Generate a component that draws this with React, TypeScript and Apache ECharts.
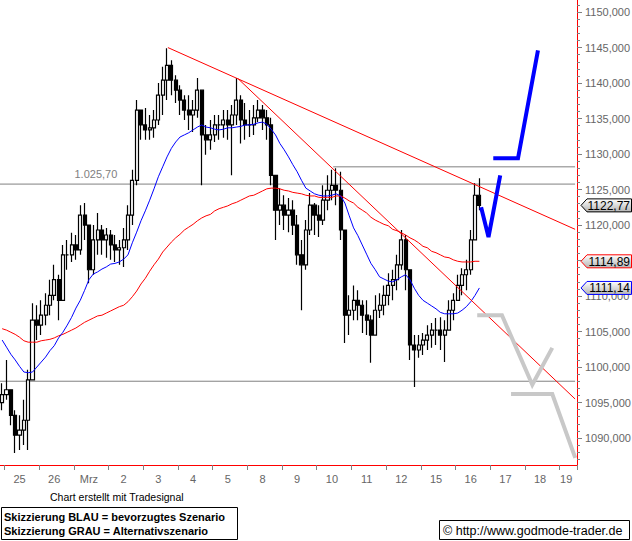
import React, { useEffect, useRef } from 'react';
import * as echarts from 'echarts';

// ---- axis / category data ----
const DAY_LABELS = ['25', '26', 'Mrz', '2', '3', '4', '5', '8', '9', '10', '11', '12', '15', '16', '17', '18', '19'];
const DAY_LABEL_SLOTS = [4, 12, 20, 28, 36, 44, 52, 60, 68, 76, 84, 92, 100, 108, 116, 124, 130];
const SLOTS_PER_DAY = 8;
const SLOT_COUNT = 133;
const Y_MIN = 1086.2;
const Y_MAX = 1151.7;
// 1115,000 is hidden behind the price tag in the reference
const Y_LABELS = [1090, 1095, 1100, 1105, 1110, 1120, 1125, 1130, 1135, 1140, 1145, 1150];
const Y_MAJOR_TICKS = [1090, 1095, 1100, 1105, 1110, 1115, 1120, 1125, 1130, 1135, 1140, 1145, 1150];
const Y_MINOR = [1087, 1088, 1089, 1090, 1091, 1092, 1093, 1094, 1095, 1096, 1097, 1098, 1099, 1100, 1101, 1102, 1103, 1104, 1105, 1106, 1107, 1108, 1109, 1110, 1111, 1112, 1113, 1114, 1115, 1116, 1117, 1118, 1119, 1120, 1121, 1122, 1123, 1124, 1125, 1126, 1127, 1128, 1129, 1130, 1131, 1132, 1133, 1134, 1135, 1136, 1137, 1138, 1139, 1140, 1141, 1142, 1143, 1144, 1145, 1146, 1147, 1148, 1149, 1150, 1151];

// ---- price bars ----
const FIRST_OPEN = 1095.0;
const HIGHS = [
  1097.7, 1101.0, 1096.3, 1093.9, 1093.2, 1095.4, 1099.6, 1109.0, 1108.7, 1109.4,
  1110.4, 1112.3, 1114.4, 1113.0, 1117.2, 1117.9, 1118.9, 1118.6, 1122.8, 1123.1,
  1120.0, 1120.0, 1121.7, 1120.0, 1119.6, 1119.3, 1118.6, 1117.9, 1119.6, 1122.8,
  1127.8, 1137.6, 1136.2, 1136.5, 1135.5, 1136.2, 1140.0, 1142.3, 1144.9, 1143.2,
  1141.1, 1139.7, 1138.3, 1138.3, 1137.6, 1140.7, 1138.3, 1134.1, 1134.8, 1135.5,
  1135.5, 1136.2, 1136.2, 1136.9, 1140.7, 1138.3, 1137.2, 1136.2, 1136.9, 1137.6,
  1136.9, 1136.2, 1135.1, 1126.3, 1125.2, 1124.2, 1123.8, 1123.5, 1121.4, 1117.9,
  1120.7, 1124.5, 1123.1, 1122.8, 1125.6, 1127.0, 1127.8, 1128.0, 1127.5, 1117.9,
  1110.1, 1111.5, 1110.8, 1109.4, 1109.4, 1107.3, 1110.1, 1110.4, 1111.5, 1113.2,
  1113.7, 1115.8, 1119.3, 1118.6, 1112.3, 1104.5, 1104.5, 1104.8, 1105.9, 1106.2,
  1106.9, 1107.0, 1106.6, 1109.4, 1110.4, 1113.0, 1113.9, 1115.1, 1119.3, 1125.9,
  1126.6,
];
const LOWS = [
  1093.9, 1095.4, 1091.8, 1087.9, 1088.3, 1089.0, 1088.3, 1098.2, 1103.8, 1104.5,
  1105.9, 1107.3, 1109.4, 1106.6, 1109.4, 1113.7, 1114.8, 1115.1, 1115.8, 1117.9,
  1111.8, 1113.0, 1115.8, 1115.8, 1115.4, 1115.1, 1114.8, 1114.4, 1114.1, 1116.5,
  1120.0, 1125.6, 1132.0, 1132.0, 1132.0, 1132.3, 1134.1, 1135.5, 1137.6, 1138.3,
  1137.2, 1135.5, 1134.8, 1133.4, 1133.1, 1135.1, 1125.6, 1129.9, 1130.6, 1131.7,
  1132.0, 1132.3, 1132.0, 1127.0, 1134.1, 1131.5, 1132.0, 1132.4, 1132.7, 1134.5,
  1133.4, 1132.0, 1125.6, 1117.9, 1120.0, 1119.3, 1119.0, 1118.6, 1114.4, 1108.0,
  1113.7, 1118.6, 1118.6, 1118.3, 1120.0, 1122.1, 1123.5, 1122.8, 1117.9, 1103.4,
  1104.5, 1106.6, 1106.6, 1104.8, 1104.5, 1100.6, 1104.5, 1106.9, 1107.3, 1108.7,
  1109.4, 1110.8, 1113.7, 1110.8, 1101.0, 1097.2, 1101.3, 1101.7, 1102.4, 1102.7,
  1103.1, 1102.4, 1100.7, 1105.2, 1106.6, 1109.4, 1110.1, 1110.8, 1113.0, 1117.9,
  1122.1,
];
const CLOSES = [
  1096.1, 1096.8, 1093.2, 1090.4, 1091.1, 1092.5, 1098.2, 1106.6, 1105.9, 1107.3,
  1108.7, 1110.1, 1112.3, 1109.4, 1115.8, 1115.8, 1117.2, 1116.5, 1121.4, 1120.0,
  1113.7, 1117.9, 1119.3, 1117.9, 1118.6, 1117.2, 1116.5, 1116.8, 1117.9, 1121.4,
  1126.3, 1136.2, 1134.1, 1133.4, 1133.7, 1134.8, 1138.3, 1140.4, 1142.5, 1140.4,
  1139.0, 1137.6, 1136.2, 1135.5, 1136.2, 1139.0, 1132.7, 1132.0, 1132.7, 1134.1,
  1134.1, 1134.8, 1134.1, 1135.5, 1137.6, 1134.8, 1134.1, 1134.1, 1135.1, 1136.2,
  1135.1, 1134.1, 1127.0, 1122.1, 1122.8, 1121.4, 1122.1, 1120.0, 1115.8, 1114.4,
  1119.3, 1122.8, 1121.4, 1120.7, 1123.5, 1124.9, 1125.6, 1124.9, 1119.3, 1107.3,
  1108.0, 1109.4, 1108.7, 1107.3, 1106.6, 1104.5, 1108.0, 1108.7, 1110.1, 1111.5,
  1112.3, 1114.4, 1117.9, 1113.7, 1103.1, 1102.4, 1103.1, 1103.8, 1104.5, 1105.2,
  1105.2, 1104.5, 1105.2, 1108.0, 1109.4, 1111.5, 1113.0, 1113.7, 1117.9, 1124.2,
  1122.77,
];

// ---- moving averages ----
const BLUE_MA = [
  1103.8, 1102.8, 1101.8, 1101.0, 1100.1, 1099.3, 1099.2, 1099.3, 1100.0, 1100.7,
  1101.4, 1102.3, 1103.0, 1104.1, 1104.9, 1105.9, 1107.0, 1108.3, 1109.4, 1110.8,
  1112.3, 1113.1, 1113.4, 1113.8, 1114.1, 1114.5, 1114.6, 1114.8, 1115.2, 1115.8,
  1117.5, 1119.0, 1120.6, 1122.0, 1123.5, 1125.1, 1126.8, 1128.2, 1129.6, 1130.8,
  1131.7, 1132.4, 1132.7, 1133.0, 1133.4, 1133.8, 1134.1, 1133.8, 1133.7, 1133.5,
  1133.4, 1133.5, 1133.7, 1133.7, 1133.8, 1133.9, 1134.1, 1134.1, 1134.2, 1134.4,
  1134.5, 1134.2, 1133.5, 1132.7, 1131.5, 1130.6, 1129.6, 1128.5, 1127.5, 1126.3,
  1125.2, 1124.8, 1124.4, 1124.2, 1124.1, 1124.1, 1124.2, 1124.4, 1124.1, 1123.1,
  1121.3, 1119.6, 1118.5, 1117.2, 1115.9, 1114.6, 1113.7, 1112.7, 1112.4, 1112.1,
  1112.0, 1112.3, 1112.7, 1113.0, 1112.3, 1111.1, 1110.1, 1109.4, 1109.0, 1108.6,
  1108.2, 1107.7, 1107.5, 1107.5, 1107.5, 1107.6, 1108.0, 1108.5, 1109.2, 1110.1,
  1111.14,
];
const RED_MA = [
  1105.4, 1105.2, 1104.9, 1104.6, 1104.2, 1103.7, 1103.5, 1103.5, 1103.5, 1103.7,
  1103.8, 1103.9, 1104.1, 1104.4, 1104.6, 1104.9, 1105.2, 1105.5, 1105.9, 1106.3,
  1106.6, 1106.9, 1107.2, 1107.3, 1107.6, 1107.9, 1108.2, 1108.5, 1108.7, 1109.2,
  1109.9, 1110.7, 1111.7, 1112.5, 1113.5, 1114.4, 1115.2, 1116.2, 1116.9, 1117.6,
  1118.2, 1118.7, 1119.3, 1119.7, 1120.1, 1120.6, 1121.0, 1121.3, 1121.5, 1122.0,
  1122.3, 1122.5, 1122.7, 1123.0, 1123.2, 1123.5, 1123.8, 1124.1, 1124.2, 1124.5,
  1124.8, 1125.1, 1125.2, 1125.2, 1125.1, 1124.9, 1124.8, 1124.6, 1124.5, 1124.4,
  1124.2, 1124.1, 1124.1, 1123.9, 1123.9, 1123.9, 1123.9, 1124.1, 1124.1, 1123.8,
  1123.4, 1123.1, 1122.5, 1122.1, 1121.7, 1121.1, 1120.7, 1120.4, 1120.1, 1119.9,
  1119.4, 1119.2, 1118.9, 1118.6, 1118.2, 1117.9, 1117.5, 1117.0, 1116.8, 1116.3,
  1116.1, 1115.8, 1115.5, 1115.4, 1115.1, 1114.9, 1114.8, 1114.8, 1114.8, 1114.9,
  1114.89,
];

// ---- drawn lines: [slot position, price] ----
const TREND_TOP = [[38.2, 1145.0], [132.06, 1119.4]];
const TREND_STEEP = [[54.4, 1140.6], [132.06, 1095.5]];
const LEVEL_MAIN = [[-0.5, 1125.77], [132.06, 1125.77]];
const LEVEL_HIGH = [[76.3, 1128.2], [132.06, 1128.2]];
const LEVEL_LOW = [[-0.5, 1098.0], [132.06, 1098.0]];
const LEVEL_MAIN_TEXT = '1.025,70';
const LEVEL_MAIN_TEXT_SLOT = 21.6;
const BLUE_V = [[110.4, 1122.5], [112.1, 1118.3], [114.8, 1127.0]];
const BLUE_UP = [[113.2, 1129.4], [118.9, 1129.4], [123.5, 1144.6]];
const GRAY_1 = [[109.5, 1107.3], [115.2, 1107.3], [122.2, 1097.5], [126.8, 1102.7]];
const GRAY_2 = [[117.3, 1096.2], [126.8, 1096.2], [132.1, 1087.2]];

const FONT = '"Liberation Sans", Arial, sans-serif';

export default function App() {
  const ref = useRef<HTMLDivElement>(null);

  useEffect(() => {
    document.body.style.margin = '0';
    if (!ref.current) return;
    const chart = echarts.init(ref.current, undefined, { renderer: 'svg' });

    const categories = Array.from({ length: SLOT_COUNT }, (_, i) => String(i));
    const labelMap: Record<number, string> = {};
    DAY_LABEL_SLOTS.forEach((s, k) => { labelMap[s] = DAY_LABELS[k]; });

    const candles = CLOSES.map((c, i) => {
      const o = i === 0 ? FIRST_OPEN : CLOSES[i - 1];
      return [o, c, Math.min(LOWS[i], o, c), Math.max(HIGHS[i], o, c)];
    });

    const seg = (data: number[][], color: string, width: number, z = 4) => ({
      type: 'line',
      xAxisIndex: 1,
      yAxisIndex: 0,
      data,
      symbol: 'none',
      lineStyle: { color, width, cap: 'butt', join: 'miter' },
      z,
      silent: true,
    });

    chart.setOption({
      animation: false,
      backgroundColor: '#ffffff',
      grid: { left: 0, top: 0, width: 577, height: 465, containLabel: false, outerBoundsMode: 'none' },
      xAxis: [
        {
          type: 'category',
          data: categories,
          boundaryGap: true,
          axisLine: { onZero: false, lineStyle: { color: '#ff0000', width: 1 } },
          axisTick: {
            show: true,
            interval: (i: number) => i % SLOTS_PER_DAY === 1,
            length: 5,
            lineStyle: { color: '#808080' },
          },
          axisLabel: {
            interval: (i: number) => labelMap[i] !== undefined,
            formatter: (_v: string, i: number) => labelMap[i] ?? '',
            color: '#666666',
            fontSize: 11,
            fontFamily: FONT,
            margin: 8,
          },
          splitLine: { show: false },
        },
        { type: 'value', min: -0.5, max: SLOT_COUNT - 0.5, show: false },
      ],
      yAxis: [
        {
          type: 'value',
          position: 'right',
          min: Y_MIN,
          max: Y_MAX,
          axisLine: { show: true, onZero: false, lineStyle: { color: '#ff0000', width: 1 } },
          axisTick: { show: true, customValues: Y_MAJOR_TICKS, length: 5, lineStyle: { color: '#808080' } },
          axisLabel: {
            customValues: Y_LABELS,
            formatter: (v: number) => v.toFixed(3).replace('.', ','),
            color: '#666666',
            fontSize: 11,
            fontFamily: FONT,
            margin: 8,
          },
          splitLine: { show: false },
        },
        {
          type: 'value',
          position: 'right',
          min: Y_MIN,
          max: Y_MAX,
          axisLine: { show: false, onZero: false },
          axisTick: { show: true, customValues: Y_MINOR, length: 3, lineStyle: { color: '#808080' } },
          axisLabel: { show: false },
          splitLine: { show: false },
        },
      ],
      series: [
        seg(LEVEL_MAIN, '#808080', 1, 1),
        seg(LEVEL_HIGH, '#808080', 1, 1),
        seg(LEVEL_LOW, '#808080', 1, 1),
        {
          type: 'candlestick',
          xAxisIndex: 0,
          yAxisIndex: 0,
          data: candles,
          barWidth: 3.6,
          itemStyle: {
            color: '#ffffff',
            color0: '#000000',
            borderColor: '#000000',
            borderColor0: '#000000',
            borderWidth: 1.2,
          },
          z: 2,
          silent: true,
        },
        {
          type: 'line',
          xAxisIndex: 0,
          yAxisIndex: 0,
          data: RED_MA,
          symbol: 'none',
          lineStyle: { color: '#ff0000', width: 1 },
          z: 3,
          silent: true,
        },
        {
          type: 'line',
          xAxisIndex: 0,
          yAxisIndex: 0,
          data: BLUE_MA,
          symbol: 'none',
          lineStyle: { color: '#0000ff', width: 1 },
          z: 3,
          silent: true,
        },
        seg(TREND_TOP, '#ff0000', 1),
        seg(TREND_STEEP, '#ff0000', 1),
        seg(GRAY_1, '#c8c8c8', 4, 5),
        seg(GRAY_2, '#c8c8c8', 4, 5),
        seg(BLUE_V, '#0000ff', 4, 6),
        seg(BLUE_UP, '#0000ff', 4, 6),
      ],
    });

    const fmt2 = (v: number) => v.toFixed(2).replace('.', ',');
    const grad = () =>
      new echarts.graphic.LinearGradient(0, 0, 0, 1, [
        { offset: 0, color: '#ffffff' },
        { offset: 1, color: '#b4b4b4' },
      ]);
    const tags = [
      { value: CLOSES[CLOSES.length - 1], stroke: '#000000' },
      { value: RED_MA[RED_MA.length - 1], stroke: '#ff0000' },
      { value: BLUE_MA[BLUE_MA.length - 1], stroke: '#0000ff' },
    ];
    const elements: any[] = [];
    tags.forEach((t) => {
      const y = chart.convertToPixel({ yAxisIndex: 0 }, t.value) as number;
      elements.push({
        type: 'polygon',
        z: 100,
        shape: { points: [[581, y], [587, y - 6.5], [631.5, y - 6.5], [631.5, y + 6.5], [587, y + 6.5]] },
        style: { fill: grad(), stroke: t.stroke, lineWidth: 1 },
      });
      elements.push({
        type: 'text',
        z: 101,
        x: 630,
        y: y + 0.5,
        style: { text: fmt2(t.value), fill: '#000000', font: `12px ${FONT}`, align: 'right', verticalAlign: 'middle' },
      });
    });

    const lx = chart.convertToPixel({ xAxisIndex: 1 }, LEVEL_MAIN_TEXT_SLOT) as number;
    const ly = chart.convertToPixel({ yAxisIndex: 0 }, LEVEL_MAIN[0][1]) as number;
    elements.push({
      type: 'text',
      z: 50,
      x: lx,
      y: ly - 5,
      style: { text: LEVEL_MAIN_TEXT, fill: '#808080', font: `11px ${FONT}`, align: 'center', verticalAlign: 'bottom' },
    });

    elements.push({
      type: 'text',
      x: 50,
      y: 497,
      style: { text: 'Chart erstellt mit Tradesignal', fill: '#000000', font: `10.5px ${FONT}`, align: 'left', verticalAlign: 'middle' },
    });
    elements.push({
      type: 'rect',
      shape: { x: 1.5, y: 507.5, width: 236, height: 32 },
      style: { fill: '#ffffff', stroke: '#000000', lineWidth: 1 },
    });
    elements.push({
      type: 'text',
      x: 4,
      y: 516.5,
      style: { text: 'Skizzierung BLAU = bevorzugtes Szenario', fill: '#000000', font: `bold 11px ${FONT}`, align: 'left', verticalAlign: 'middle' },
    });
    elements.push({
      type: 'text',
      x: 4,
      y: 531,
      style: { text: 'Skizzierung GRAU = Alternativszenario', fill: '#000000', font: `bold 11px ${FONT}`, align: 'left', verticalAlign: 'middle' },
    });
    elements.push({
      type: 'rect',
      shape: { x: 439.5, y: 520.5, width: 190, height: 19 },
      style: { fill: '#ffffff', stroke: '#000000', lineWidth: 1 },
    });
    elements.push({
      type: 'text',
      x: 443,
      y: 530.5,
      style: { text: '© http://www.godmode-trader.de', fill: '#000000', font: `12.5px ${FONT}`, align: 'left', verticalAlign: 'middle' },
    });

    chart.setOption({ graphic: { elements } });

    return () => chart.dispose();
  }, []);

  return <div ref={ref} style={{ width: 632, height: 541 }} />;
}
